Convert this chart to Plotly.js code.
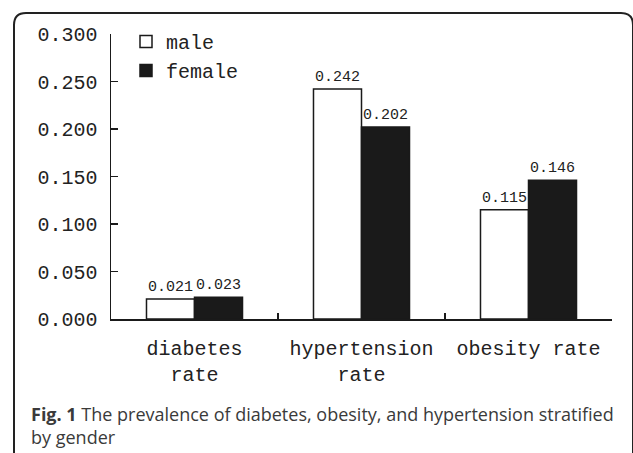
<!DOCTYPE html>
<html>
<head>
<meta charset="utf-8">
<script src="https://cdn.plot.ly/plotly-3.0.1.min.js"></script>
<style>html,body{margin:0;padding:0;background:#fff;}#chart{width:633px;height:453px;}</style>
</head>
<body>
<div id="chart"></div>
<script>
var categories = ['diabetes<br>rate', 'hypertension<br>rate', 'obesity rate'];
var maleValues = [0.021, 0.242, 0.115];
var femaleValues = [0.023, 0.202, 0.146];
var yTickValues = [0, 0.05, 0.10, 0.15, 0.20, 0.25, 0.30];
var seriesNames = ['male', 'female'];
var captionBold = 'Fig. 1';
var captionText = 'The prevalence of diabetes, obesity, and hypertension stratified<br>by gender';

var MONO = 'Liberation Mono, DejaVu Sans Mono, monospace';
var L = 111, R = 21, T = 34, B = 134, W = 633 - L - R, H = 453 - T - B;
function px(x) { return (x - L) / W; }
function py(y) { return (T + H - y) / H; }

var male = {
  type: 'bar', name: seriesNames[0], x: categories, y: maleValues,
  text: maleValues.map(function(v){ return v.toFixed(3); }),
  textposition: 'outside', constraintext: 'none', cliponaxis: false,
  textfont: {family: MONO, size: 15, color: '#222'},
  marker: {color: '#ffffff', line: {color: '#1a1a1a', width: 1.5}},
  hoverinfo: 'none'
};
var female = {
  type: 'bar', name: seriesNames[1], x: categories, y: femaleValues,
  text: femaleValues.map(function(v){ return v.toFixed(3); }),
  textposition: 'outside', constraintext: 'none', cliponaxis: false,
  textfont: {family: MONO, size: 15, color: '#222'},
  marker: {color: '#1a1a1a', line: {color: '#1a1a1a', width: 1.5}},
  hoverinfo: 'none'
};

var border = 'M ' + px(14) + ',' + py(470) +
  ' L ' + px(14) + ',' + py(25) +
  ' Q ' + px(14) + ',' + py(13) + ' ' + px(26) + ',' + py(13) +
  ' L ' + px(621) + ',' + py(13) +
  ' Q ' + px(633) + ',' + py(13) + ' ' + px(633) + ',' + py(25) +
  ' L ' + px(633) + ',' + py(470);

var layout = {
  width: 633, height: 453,
  margin: {l: L, r: R, t: T, b: B, pad: 0},
  paper_bgcolor: '#fff', plot_bgcolor: '#fff',
  barmode: 'group', bargap: 0.425, bargroupgap: 0,
  showlegend: true,
  legend: {
    x: px(126), y: py(22), xanchor: 'left', yanchor: 'top',
    bgcolor: 'rgba(0,0,0,0)', itemwidth: 30,
    font: {family: MONO, size: 20, color: '#222'}
  },
  xaxis: {
    showline: true, linecolor: '#1a1a1a', linewidth: 1.5,
    ticks: 'inside', ticklen: 6, tickwidth: 1.5, tickcolor: '#1a1a1a',
    tickson: 'boundaries', showgrid: false, zeroline: false,
    tickfont: {family: MONO, size: 20, color: '#222'},
    ticklabelstandoff: 10, fixedrange: true
  },
  yaxis: {
    range: [0, 0.3], tickvals: yTickValues, tickformat: '.3f',
    showline: true, linecolor: '#1a1a1a', linewidth: 1.5,
    ticks: 'inside', ticklen: 7, tickwidth: 1.5, tickcolor: '#1a1a1a',
    showgrid: false, zeroline: false,
    tickfont: {family: MONO, size: 20, color: '#222'},
    ticklabelstandoff: 8, fixedrange: true
  },
  shapes: [{
    type: 'path', xref: 'paper', yref: 'paper', path: border,
    line: {color: '#222', width: 2}, fillcolor: 'rgba(0,0,0,0)'
  }],
  annotations: [{
    xref: 'paper', yref: 'paper', x: px(29), y: py(400),
    xanchor: 'left', yanchor: 'top', align: 'left', showarrow: false,
    text: '<b>' + captionBold + '</b> ' + captionText,
    font: {family: 'Open Sans, Noto Sans, sans-serif', size: 18, color: '#3a3a3a'}
  }]
};

Plotly.newPlot('chart', [male, female], layout, {displayModeBar: false, staticPlot: true});
</script>
</body>
</html>
